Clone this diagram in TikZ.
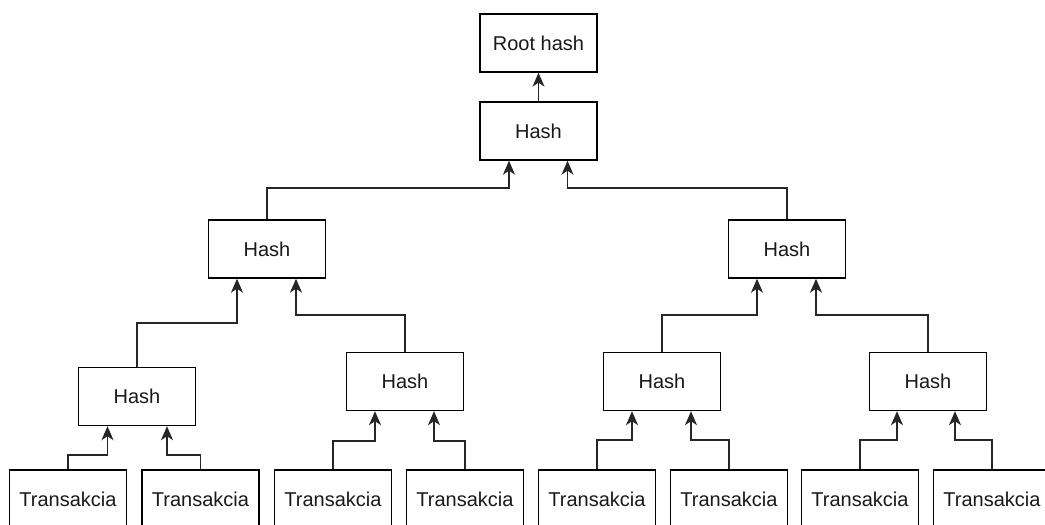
\documentclass[tikz,border=0pt]{standalone}
\usepackage{fontspec}
\setmainfont{Liberation Sans}
\usetikzlibrary{arrows.meta}
\begin{document}
\begin{tikzpicture}[x=1pt,y=-1pt,
  box/.style={draw=black,line width=1.4pt,minimum width=117pt,minimum height=58pt,inner sep=0pt,
    font=\fontsize{20}{24}\selectfont,text=black!90},
  arr/.style={draw=black!85,line width=1.4pt,-{Stealth[length=14pt,width=12pt,inset=4pt]}}]
\clip (0,0) rectangle (1045,525);
\fill[white] (0,0) rectangle (1045,525);
\node[box] (root) at (538.5,43) {Root hash};
\node[box] (h1) at (538.5,131) {Hash};
\node[box] (h2a) at (267,249) {Hash};
\node[box] (h2b) at (787,249) {Hash};
\node[box] (h3a) at (137,396.5) {Hash};
\node[box] (h3b) at (405,381.5) {Hash};
\node[box] (h3c) at (662,381.5) {Hash};
\node[box] (h3d) at (928,381.5) {Hash};
\node[box] (t1) at (68,499) {Transakcia};
\node[box] (t2) at (200.5,499) {Transakcia};
\node[box] (t3) at (333,499) {Transakcia};
\node[box] (t4) at (465,499) {Transakcia};
\node[box] (t5) at (597,499) {Transakcia};
\node[box] (t6) at (729,499) {Transakcia};
\node[box] (t7) at (860,499) {Transakcia};
\node[box] (t8) at (992,499) {Transakcia};
\draw[arr] (h1.north) -- (root.south);
\draw[arr] (h2a.north) -- (h2a.north |- 0,188) -| ([xshift=-29.5pt]h1.south);
\draw[arr] (h2b.north) -- (h2b.north |- 0,188) -| ([xshift=29pt]h1.south);
\draw[arr] (h3a.north) -- (h3a.north |- 0,323) -| ([xshift=-30pt]h2a.south);
\draw[arr] (h3b.north) -- (h3b.north |- 0,315) -| ([xshift=29pt]h2a.south);
\draw[arr] (h3c.north) -- (h3c.north |- 0,315) -| ([xshift=-30pt]h2b.south);
\draw[arr] (h3d.north) -- (h3d.north |- 0,315) -| ([xshift=29pt]h2b.south);
\draw[arr] (t1.north) -- (t1.north |- 0,455) -| ([xshift=-29.5pt]h3a.south);
\draw[arr] (t2.north) -- (t2.north |- 0,455) -| ([xshift=30pt]h3a.south);
\draw[arr] (t3.north) -- (t3.north |- 0,441) -| ([xshift=-30pt]h3b.south);
\draw[arr] (t4.north) -- (t4.north |- 0,441) -| ([xshift=29pt]h3b.south);
\draw[arr] (t5.north) -- (t5.north |- 0,440) -| ([xshift=-30pt]h3c.south);
\draw[arr] (t6.north) -- (t6.north |- 0,440) -| ([xshift=29pt]h3c.south);
\draw[arr] (t7.north) -- (t7.north |- 0,440) -| ([xshift=-31pt]h3d.south);
\draw[arr] (t8.north) -- (t8.north |- 0,440) -| ([xshift=27pt]h3d.south);
\end{tikzpicture}
\end{document}
